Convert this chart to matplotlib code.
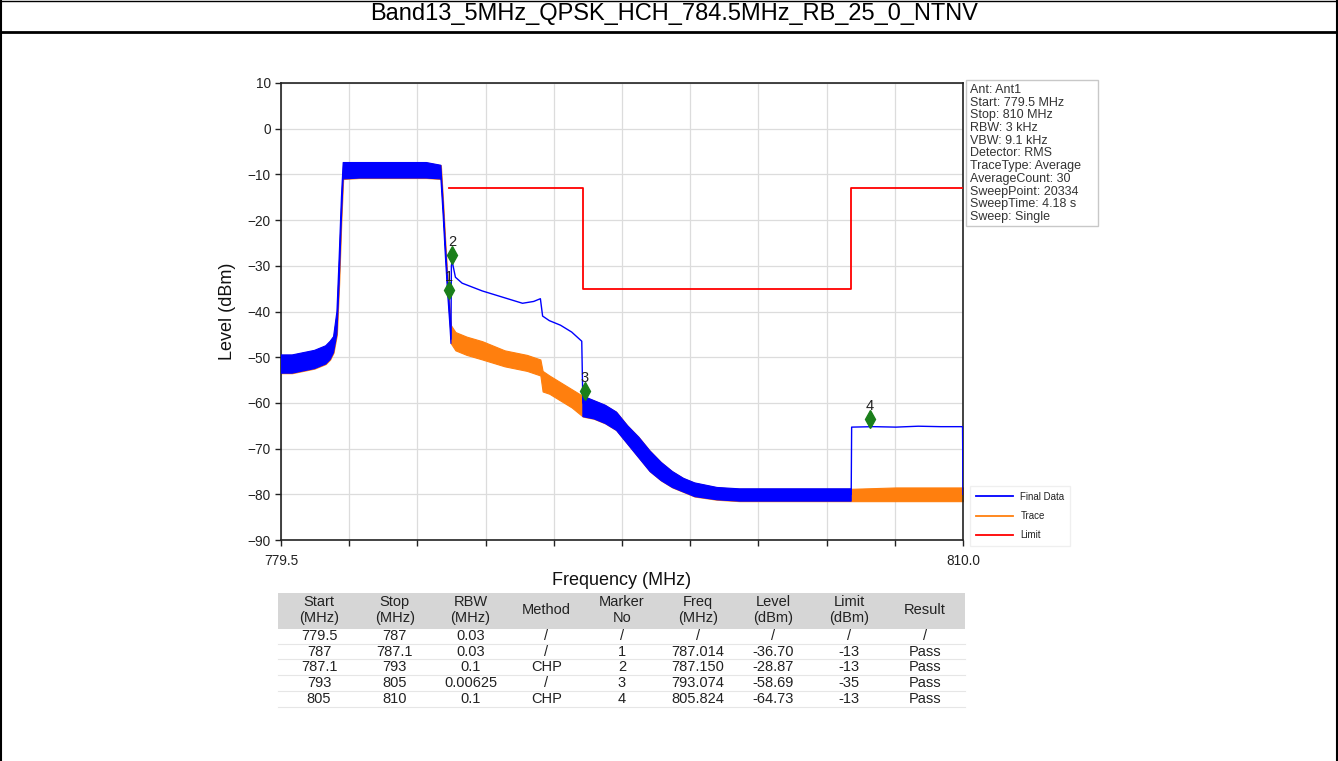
import numpy as np
import matplotlib
matplotlib.use("Agg")
import matplotlib.pyplot as plt
from matplotlib.lines import Line2D
from matplotlib.patches import Rectangle
from matplotlib.transforms import offset_copy

plt.rcParams['font.family'] = ['Liberation Sans', 'DejaVu Sans']

W, H = 1338, 761

# ---------------- data ----------------
title = "Band13_5MHz_QPSK_HCH_784.5MHz_RB_25_0_NTNV"

# Trace envelope (noise band lower / upper, dBm)
trace_freq = [779.5, 780.0, 780.5, 781.0, 781.5, 781.7, 781.85, 782.0, 782.1, 782.2, 782.28,
              783.0, 784.0, 785.0, 786.0, 786.65, 786.75, 786.85, 786.95, 787.05, 787.1,
              787.3, 787.8, 788.5, 789.5, 790.5, 791.1, 791.2, 791.5, 792.0, 792.5, 793.0,
              793.5, 794.0, 794.5, 795.0, 795.5, 796.0, 796.5, 797.0, 797.5, 798.0, 799.0,
              800.0, 802.0, 805.0, 807.0, 810.0]
trace_lo = [-53.5, -53.5, -53, -52.5, -51.5, -50.5, -49, -45, -34, -20, -11,
            -10.8, -10.8, -10.8, -10.8, -11, -19, -28, -36, -43, -47,
            -48.5, -49.5, -50.5, -52, -53, -54, -57.5, -58, -59.5, -61, -63,
            -63.5, -64.5, -66, -69, -72, -75, -77, -78.5, -79.5, -80.5, -81.2,
            -81.5, -81.5, -81.5, -81.5, -81.5]
trace_hi = [-49.5, -49.5, -49, -48.5, -47.5, -46.5, -45.5, -40, -28, -15, -7.4,
            -7.4, -7.4, -7.4, -7.4, -8, -16, -25, -33, -40, -43,
            -44.5, -45.5, -46.5, -48.5, -49.5, -50.5, -53, -54, -55.5, -57, -58.5,
            -59.5, -60.5, -62, -65, -67.5, -70.5, -73, -75, -76.5, -77.5, -78.5,
            -78.8, -78.8, -78.8, -78.5, -78.5]

# Final Data: thin (CHP) parts
fd_chp1_freq = [787.1, 787.12, 787.15, 787.3, 787.6, 788.5, 789.5, 790.3, 790.8, 791.1,
                791.2, 791.5, 792.0, 792.5, 792.95, 793.0]
fd_chp1_level = [-46, -30, -28.9, -32.5, -33.8, -35.5, -37, -38.2, -37.8, -37.2,
                 -41, -42, -43, -44.5, -46.5, -60]
fd_chp2_freq = [805.0, 805.02, 806.0, 807.0, 808.0, 809.0, 809.98, 810.0]
fd_chp2_level = [-80, -65.3, -65.2, -65.3, -65.1, -65.2, -65.2, -80]

# Limit line
limit_freq = [787, 793, 793, 805, 805, 810]
limit_level = [-13, -13, -35, -35, -13, -13]

# Markers
marker_no = [1, 2, 3, 4]
marker_freq = [787.014, 787.150, 793.074, 805.824]
marker_level = [-36.70, -28.87, -58.69, -64.73]

info_lines = ["Ant: Ant1", "Start: 779.5 MHz", "Stop: 810 MHz", "RBW: 3 kHz", "VBW: 9.1 kHz",
              "Detector: RMS", "TraceType: Average", "AverageCount: 30", "SweepPoint: 20334",
              "SweepTime: 4.18 s", "Sweep: Single"]

# Table
col_headers = ["Start\n(MHz)", "Stop\n(MHz)", "RBW\n(MHz)", "Method", "Marker\nNo",
               "Freq\n(MHz)", "Level\n(dBm)", "Limit\n(dBm)", "Result"]
tbl_start = ["779.5", "787", "787.1", "793", "805"]
tbl_stop = ["787", "787.1", "793", "805", "810"]
tbl_rbw = ["0.03", "0.03", "0.1", "0.00625", "0.1"]
tbl_method = ["/", "/", "CHP", "/", "CHP"]
tbl_marker = ["/", "1", "2", "3", "4"]
tbl_freq = ["/", "787.014", "787.150", "793.074", "805.824"]
tbl_level = ["/", "-36.70", "-28.87", "-58.69", "-64.73"]
tbl_limit = ["/", "-13", "-13", "-35", "-13"]
tbl_result = ["/", "Pass", "Pass", "Pass", "Pass"]

# ---------------- figure ----------------
fig = plt.figure(figsize=(W / 100, H / 100), dpi=100)


def fx(x):
    return x / W


def fy(y):
    return 1 - y / H


# page frame
fig.add_artist(Line2D([fx(1), fx(1)], [0, 1], color='black', lw=1.5))
fig.add_artist(Line2D([fx(1336.5), fx(1336.5)], [0, 1], color='black', lw=1.5))
fig.add_artist(Line2D([0, 1], [fy(0.5), fy(0.5)], color='black', lw=1.0))
fig.add_artist(Line2D([0, 1], [fy(32), fy(32)], color='black', lw=2.0))
fig.text(fx(674), fy(14), title, ha='center', va='center', fontsize=17, color='black')

# main axes
L, R, T, B = 281, 963, 83, 540
ax = fig.add_axes([fx(L), fy(B), fx(R - L), (B - T) / H])
ax.set_xlim(779.5, 810.0)
ax.set_ylim(-90, 10)

f = np.array(trace_freq)
lo = np.array(trace_lo)
hi = np.array(trace_hi)

ax.fill_between(f, lo, hi, color='#ff7f0e', lw=0.8, edgecolor='#ff7f0e', zorder=2)
mask = (f <= 787.1) | ((f >= 793.0) & (f <= 805.0))
ax.fill_between(f, lo, hi, where=mask, color='#0000ff', lw=0.8, edgecolor='#0000ff', zorder=3)
ax.plot(fd_chp1_freq, fd_chp1_level, color='#0000ff', lw=1.0, zorder=4)
ax.plot(fd_chp2_freq, fd_chp2_level, color='#0000ff', lw=1.0, zorder=4)
ax.plot(limit_freq, limit_level, color='#ff0000', lw=1.3, zorder=4)

mk_tr = offset_copy(ax.transData, fig=fig, x=0, y=6, units='dots')
ax.plot(marker_freq, marker_level, linestyle='none', marker='d', color='#1a7f1a',
        markersize=9, transform=mk_tr, zorder=6)
lb_tr = offset_copy(ax.transData, fig=fig, x=0, y=19, units='dots')
for n, fr, lv in zip(marker_no, marker_freq, marker_level):
    ax.text(fr, lv, str(n), transform=lb_tr, ha='center', va='center', fontsize=10.5,
            color='#222222', zorder=7)

xt = np.linspace(779.5, 810.0, 11)
ax.set_xticks(xt)
ax.set_xticklabels(["779.5"] + [""] * 9 + ["810.0"])
ax.set_yticks(np.arange(-90, 11, 10))
ax.tick_params(axis='both', labelsize=9.8, length=4, width=1, color='#222222',
               labelcolor='#222222', direction='out')
ax.tick_params(axis='x', pad=6)
ax.grid(True, color='#dcdcdc', lw=0.9)
ax.set_axisbelow(True)
for s in ax.spines.values():
    s.set_color('#222222')
    s.set_linewidth(1.2)

ax.set_xlabel("Frequency (MHz)", fontsize=13, color='#111111', labelpad=3)
ax.set_ylabel("Level (dBm)", fontsize=13, color='#111111', labelpad=8)

# info box
fig.add_artist(Rectangle((fx(966), fy(226)), fx(1098 - 966), (226 - 80) / H,
                         facecolor='white', edgecolor='#c8c8c8', lw=1.0))
for i, s in enumerate(info_lines):
    fig.text(fx(970), fy(90 + i * 12.7), s, ha='left', va='center', fontsize=9.0,
             color='#333333')

# legend
handles = [Line2D([], [], color='#0000ff', lw=1.3),
           Line2D([], [], color='#ff7f0e', lw=1.3),
           Line2D([], [], color='#ff0000', lw=1.3)]
fig.legend(handles, ["Final Data", "Trace", "Limit"], loc='upper left',
           bbox_to_anchor=(fx(965), fy(481)), fontsize=7, frameon=True,
           edgecolor='#ececec', fancybox=False, handlelength=3.8, labelspacing=0.95,
           borderpad=0.6, handletextpad=0.8, labelcolor='#222222')

# table
tx0, tx1 = 278, 965
fig.add_artist(Rectangle((fx(tx0), fy(629)), fx(tx1 - tx0), (629 - 593) / H,
                         facecolor='#d6d6d6', edgecolor='none'))
col_x = [319 + i * 75.75 for i in range(9)]
for cx, h in zip(col_x, col_headers):
    fig.text(fx(cx), fy(610), h, ha='center', va='center', fontsize=10.5,
             color='#222222', linespacing=1.1)
cols = [tbl_start, tbl_stop, tbl_rbw, tbl_method, tbl_marker, tbl_freq, tbl_level,
        tbl_limit, tbl_result]
row_y = [636, 651.5, 667, 683, 699]
for r, ry in enumerate(row_y):
    fig.add_artist(Line2D([fx(tx0), fx(tx1)], [fy(ry + 7.8), fy(ry + 7.8)],
                          color='#e6e6e6', lw=0.8))
    for cx, col in zip(col_x, cols):
        fig.text(fx(cx), fy(ry), col[r], ha='center', va='center', fontsize=10.5,
                 color='#222222')

fig.savefig("out.png", dpi=100)
